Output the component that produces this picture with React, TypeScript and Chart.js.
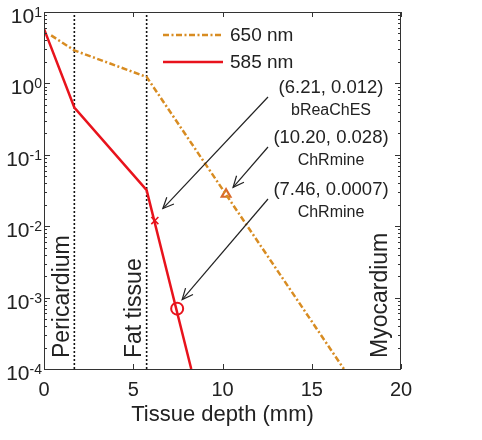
import React, { useEffect, useRef } from 'react';
import { Chart, registerables } from 'chart.js';
Chart.register(...registerables);

// ---- data ----
const depth650 = [0.4, 1.7, 5.75, 16.8];
const fluence650 = [4.7, 2.9, 1.23, 1e-4];
const depth585 = [0, 1.7, 5.75, 8.25];
const fluence585 = [5.8, 0.46, 0.032, 1e-4];
const boundaries = [1.7, 5.75];
const xTickValues = [0, 5, 10, 15, 20];
const yExponents = [1, 0, -1, -2, -3, -4];
const seriesLabels = ['650 nm', '585 nm'];
const regionLabels = ['Pericardium', 'Fat tissue', 'Myocardium'];
const markBReaChES = { x: 6.21, y: 0.012 };
const markChRmine650 = { x: 10.2, y: 0.028 };
const markChRmine585 = { x: 7.46, y: 0.0007 };
const annotationCoords = ['(6.21, 0.012)', '(10.20, 0.028)', '(7.46, 0.0007)'];
const annotationNames = ['bReaChES', 'ChRmine', 'ChRmine'];

const ORANGE = '#D88C22';
const TRI = '#DA6A2C';
const RED = '#E8131C';
const TXT = '#222222';
const FONT = '"Liberation Sans", Arial, sans-serif';
const DASH = [6, 2.5, 2, 2.5];

function drawArrow(ctx: CanvasRenderingContext2D, x0: number, y0: number, x1: number, y1: number) {
  ctx.beginPath();
  ctx.moveTo(x0, y0);
  ctx.lineTo(x1, y1);
  ctx.stroke();
  const ang = Math.atan2(y1 - y0, x1 - x0);
  const L = 12, h = 0.42;
  ctx.beginPath();
  ctx.moveTo(x1 - L * Math.cos(ang - h), y1 - L * Math.sin(ang - h));
  ctx.lineTo(x1, y1);
  ctx.lineTo(x1 - L * Math.cos(ang + h), y1 - L * Math.sin(ang + h));
  ctx.stroke();
}

const decorPlugin = {
  id: 'decor',
  afterDraw(chart: any) {
    const { ctx, chartArea: a, scales } = chart;
    const xs = scales.x, ys = scales.y;
    ctx.save();
    // frame
    ctx.strokeStyle = '#333';
    ctx.lineWidth = 1;
    ctx.strokeRect(a.left + 0.5, a.top + 0.5, a.right - a.left - 1, a.bottom - a.top);
    // x ticks (inward, top and bottom)
    ctx.beginPath();
    for (const v of xTickValues) {
      const px = Math.round(xs.getPixelForValue(v)) + 0.5;
      ctx.moveTo(px, a.bottom); ctx.lineTo(px, a.bottom - 5);
      ctx.moveTo(px, a.top); ctx.lineTo(px, a.top + 5);
    }
    // y ticks
    for (const e of yExponents) {
      const py = Math.round(ys.getPixelForValue(Math.pow(10, e))) + 0.5;
      ctx.moveTo(a.left, py); ctx.lineTo(a.left + 6, py);
      ctx.moveTo(a.right, py); ctx.lineTo(a.right - 6, py);
      if (e < 1) {
        for (let m = 2; m <= 9; m++) {
          const pm = Math.round(ys.getPixelForValue(m * Math.pow(10, e))) + 0.5;
          ctx.moveTo(a.left, pm); ctx.lineTo(a.left + 3, pm);
          ctx.moveTo(a.right, pm); ctx.lineTo(a.right - 3, pm);
        }
      }
    }
    ctx.stroke();

    // y tick labels 10^e
    ctx.fillStyle = TXT;
    ctx.textBaseline = 'alphabetic';
    for (const e of yExponents) {
      const py = ys.getPixelForValue(Math.pow(10, e));
      ctx.font = `14px ${FONT}`;
      const exp = e < 0 ? '-' + Math.abs(e) : String(e);
      const ew = ctx.measureText(exp).width;
      ctx.textAlign = 'right';
      ctx.fillText(exp, a.left - 2, py + 5);
      ctx.font = `21px ${FONT}`;
      ctx.fillText('10', a.left - 2 - ew, py + 11);
    }

    // legend
    const lx0 = 163, lx1 = 223;
    ctx.lineWidth = 2.5;
    ctx.strokeStyle = ORANGE;
    ctx.setLineDash(DASH);
    ctx.beginPath(); ctx.moveTo(lx0, 35); ctx.lineTo(lx1, 35); ctx.stroke();
    ctx.setLineDash([]);
    ctx.strokeStyle = RED;
    ctx.beginPath(); ctx.moveTo(lx0, 62); ctx.lineTo(lx1, 62); ctx.stroke();
    ctx.font = `19px ${FONT}`;
    ctx.textAlign = 'left';
    ctx.textBaseline = 'middle';
    ctx.fillText(seriesLabels[0], 230, 36);
    ctx.fillText(seriesLabels[1], 230, 63);

    // annotations text
    const tx = 331;
    const rows = [88, 138, 190];
    ctx.textAlign = 'center';
    for (let i = 0; i < 3; i++) {
      ctx.font = `18.5px ${FONT}`;
      ctx.fillText(annotationCoords[i], tx, rows[i]);
      ctx.font = `16px ${FONT}`;
      ctx.fillText(annotationNames[i], tx, rows[i] + 23);
    }

    // arrows
    ctx.strokeStyle = '#222';
    ctx.lineWidth = 1.2;
    const marks = [markBReaChES, markChRmine650, markChRmine585];
    const offs = [[8, -12], [7, -7], [5, -9]];
    for (let i = 0; i < 3; i++) {
      const mx = xs.getPixelForValue(marks[i].x) + offs[i][0];
      const my = ys.getPixelForValue(marks[i].y) + offs[i][1];
      drawArrow(ctx, 268, rows[i] + 9, mx, my);
    }

    // region labels (rotated)
    ctx.font = `23px ${FONT}`;
    ctx.fillStyle = TXT;
    ctx.textAlign = 'left';
    ctx.textBaseline = 'middle';
    const rx = [
      (xs.getPixelForValue(0) + xs.getPixelForValue(boundaries[0])) / 2 + 3,
      xs.getPixelForValue(boundaries[1]) - 12,
      a.right - 20,
    ];
    for (let i = 0; i < 3; i++) {
      ctx.save();
      ctx.translate(rx[i], a.bottom - 11);
      ctx.rotate(-Math.PI / 2);
      ctx.fillText(regionLabels[i], 0, 0);
      ctx.restore();
    }
    ctx.restore();
  },
};

export default function App() {
  const ref = useRef<HTMLCanvasElement>(null);
  useEffect(() => {
    if (!ref.current) return;
    const chart = new Chart(ref.current, {
      type: 'line',
      data: {
        datasets: [
          {
            label: seriesLabels[0],
            data: depth650.map((x, i) => ({ x, y: fluence650[i] })),
            borderColor: ORANGE,
            borderWidth: 2.5,
            borderDash: DASH,
            pointRadius: 0,
            fill: false,
          },
          {
            label: seriesLabels[1],
            data: depth585.map((x, i) => ({ x, y: fluence585[i] })),
            borderColor: RED,
            borderWidth: 2.5,
            pointRadius: 0,
            fill: false,
          },
          ...boundaries.map((b) => ({
            label: 'boundary',
            data: [{ x: b, y: 1e-4 }, { x: b, y: 10 }],
            borderColor: '#111',
            borderWidth: 1.6,
            borderDash: [2, 2],
            pointRadius: 0,
            fill: false,
          })),
          {
            label: 'bReaChES',
            data: [markBReaChES],
            showLine: false,
            pointStyle: 'crossRot',
            pointRadius: 5,
            borderColor: RED,
            borderWidth: 1.6,
          },
          {
            label: 'ChRmine650',
            data: [markChRmine650],
            showLine: false,
            pointStyle: 'triangle',
            pointRadius: 5,
            borderColor: TRI,
            backgroundColor: 'rgba(0,0,0,0)',
            borderWidth: 2.2,
          },
          {
            label: 'ChRmine585',
            data: [markChRmine585],
            showLine: false,
            pointStyle: 'circle',
            pointRadius: 6,
            borderColor: RED,
            backgroundColor: 'rgba(0,0,0,0)',
            borderWidth: 2,
          },
        ],
      } as any,
      options: {
        responsive: false,
        animation: false,
        layout: { padding: { left: 0, top: 12, right: 81, bottom: 0 } },
        plugins: { legend: { display: false }, tooltip: { enabled: false } },
        scales: {
          x: {
            type: 'linear',
            min: 0,
            max: 20,
            grid: { display: false, drawTicks: false },
            border: { display: false },
            ticks: {
              stepSize: 5,
              color: TXT,
              padding: 9,
              font: { family: FONT, size: 20 },
              maxRotation: 0,
            },
            title: {
              display: true,
              text: 'Tissue depth (mm)',
              color: TXT,
              font: { family: FONT, size: 22 },
              padding: { top: 0, bottom: 12 },
            },
            afterFit: (s: any) => { s.height = 71; },
          },
          y: {
            type: 'logarithmic',
            min: 1e-4,
            max: 10,
            grid: { display: false, drawTicks: false },
            border: { display: false },
            ticks: { display: false },
            afterFit: (s: any) => { s.width = 44; },
          },
        },
      } as any,
      plugins: [decorPlugin],
    });
    return () => chart.destroy();
  }, []);
  return (
    <div style={{ position: 'fixed', left: 0, top: 0, width: 482, height: 440, background: '#fff' }}>
      <canvas ref={ref} width={482} height={440} style={{ display: 'block' }} />
    </div>
  );
}
